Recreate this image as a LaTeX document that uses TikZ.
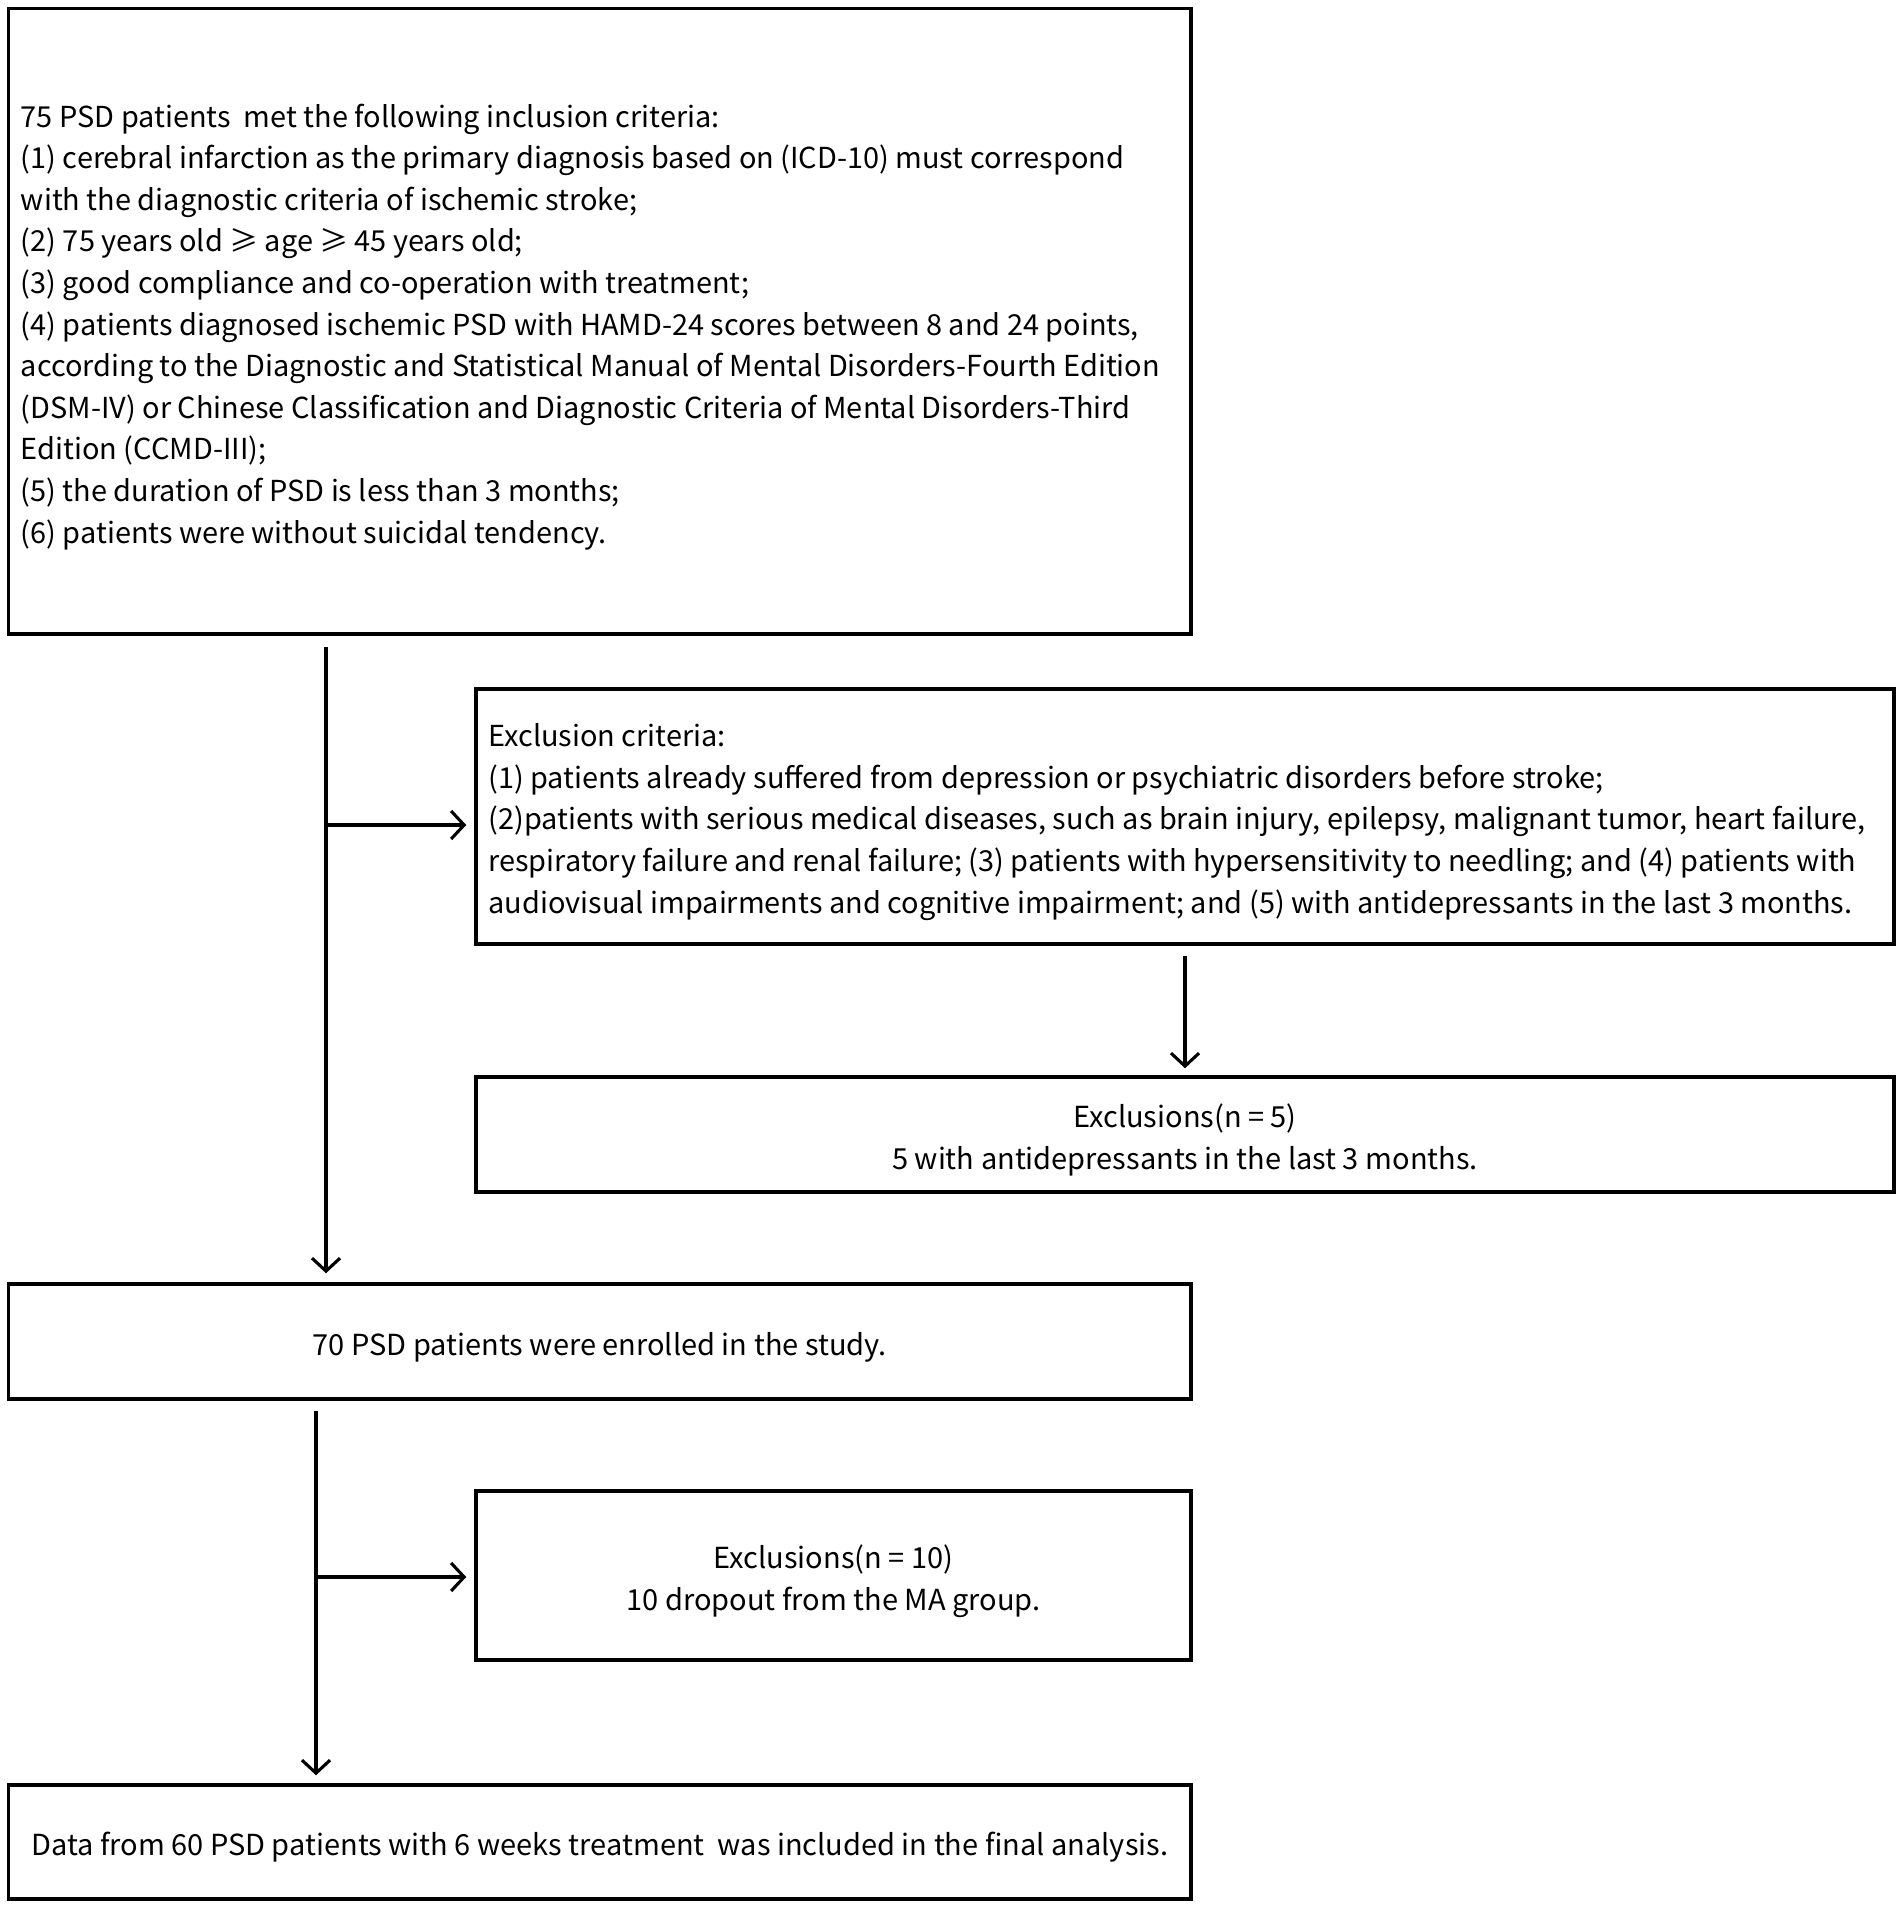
\documentclass[tikz,border=0pt]{standalone}
\usepackage{fontspec}
\setmainfont{Noto Sans CJK SC}
\usetikzlibrary{arrows.meta,calc}
\begin{document}
\begin{tikzpicture}[x=1pt,y=-1pt,
  box/.style={draw=black,line width=3.5pt,rectangle,inner sep=0pt},
  ltxt/.style={inner sep=0pt,align=left,anchor=west,font=\fontsize{28.9pt}{41.6pt}\selectfont},
  ctxt/.style={inner sep=0pt,align=center,font=\fontsize{29pt}{41.6pt}\selectfont},
  arr/.style={line width=3.1pt,-{Straight Barb[length=13pt,width=28pt,line width=3.1pt]}}]
\useasboundingbox[fill=white] (0,0) rectangle (1902,1908);

\node[box,minimum width=1182.5pt,minimum height=625.5pt] (top) at (599.75,321.25) {};
\node[ltxt] (toptext) at ([xshift=14pt,yshift=-5.5pt]top.west) {%
75 PSD patients\ \ met the following inclusion criteria:\\
(1) cerebral infarction as the primary diagnosis based on (ICD-10) must correspond\\
with the diagnostic criteria of ischemic stroke;\\
(2) 75 years old ≥ age ≥ 45 years old;\\
(3) good compliance and co-operation with treatment;\\
(4) patients diagnosed ischemic PSD with HAMD-24 scores between 8 and 24 points,\\
according to the Diagnostic and Statistical Manual of Mental Disorders-Fourth Edition\\
(DSM-IV) or Chinese Classification and Diagnostic Criteria of Mental Disorders-Third\\
Edition (CCMD-III);\\
(5) the duration of PSD is less than 3 months;\\
(6) patients were without suicidal tendency.};

\node[box,minimum width=1418pt,minimum height=255pt] (ex1) at (1185,816.5) {};
\node[ltxt] (ex1text) at ([xshift=14pt,yshift=-5.5pt]ex1.west) {%
Exclusion criteria:\\
(1) patients already suffered from depression or psychiatric disorders before stroke;\\
(2)patients with serious medical diseases, such as brain injury, epilepsy, malignant tumor, heart failure,\\
respiratory failure and renal failure; (3) patients with hypersensitivity to needling; and (4) patients with\\
audiovisual impairments and cognitive impairment; and (5) with antidepressants in the last 3 months.};

\node[box,minimum width=1418pt,minimum height=115pt] (ex2) at (1185,1134.5) {};
\node[ctxt] (ex2text) at ([yshift=-5.5pt]ex2.center) {%
Exclusions(n = 5)\\
5 with antidepressants in the last 3 months.};

\node[box,minimum width=1182.5pt,minimum height=115pt] (enr) at (599.75,1341.5) {};
\node[ctxt] (enrtext) at ([yshift=-5.5pt]enr.center) {%
70 PSD patients were enrolled in the study.};

\node[box,minimum width=715pt,minimum height=169pt] (ex3) at (833.5,1575.5) {};
\node[ctxt] (ex3text) at ([yshift=-5.5pt]ex3.center) {%
Exclusions(n = 10)\\
10 dropout from the MA group.};

\node[box,minimum width=1182.5pt,minimum height=114pt] (fin) at (599.75,1842) {};
\node[ctxt] (fintext) at ([yshift=-5.5pt]fin.center) {%
Data from 60 PSD patients with 6 weeks treatment~ was included in the final analysis.};

\coordinate (j1) at (326,825);
\coordinate (j2) at (316,1577);

\draw[arr] ([yshift=-11pt]top.south -| j1) -- ([yshift=9pt]enr.north -| j1);
\draw[arr] (j1) -- ([xshift=-8pt]ex1.west |- j1);
\draw[arr] ([yshift=-10pt]ex1.south) -- ([yshift=7pt]ex2.north);
\draw[arr] ([yshift=-10pt]enr.south -| j2) -- ([yshift=8pt]fin.north -| j2);
\draw[arr] (j2) -- ([xshift=-8pt]ex3.west |- j2);
\end{tikzpicture}
\end{document}
